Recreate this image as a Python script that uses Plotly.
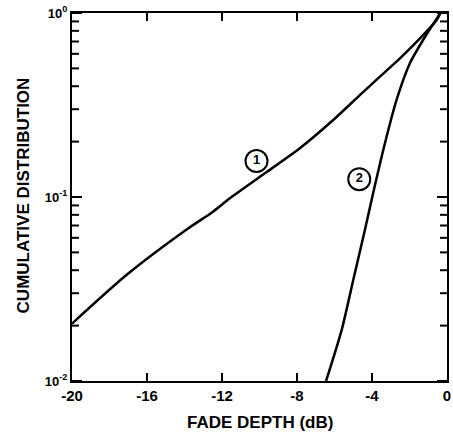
import plotly.graph_objects as go

# Curve 1
c1_x = [-20, -17.05, -13.85, -12.5, -11.6, -9.6, -7.85, -6.07, -4.65, -3.58, -2.51, -1.44, -0.55, -0.35]
c1_y = [0.0205, 0.038, 0.067, 0.083, 0.098, 0.137, 0.184, 0.262, 0.358, 0.451, 0.567, 0.728, 0.916, 1.0]
# Curve 2
c2_x = [-6.45, -5.62, -5.0, -4.38, -3.85, -3.31, -2.69, -1.98, -1.17, -0.35]
c2_y = [0.01, 0.0189, 0.0354, 0.0662, 0.115, 0.196, 0.337, 0.533, 0.743, 1.0]

label_x = [-10.16, -4.68]
label_y = [0.157, 0.125]
label_text = ["1", "2"]

x_range = [-20, 0]
x_ticks = [-20, -16, -12, -8, -4, 0]
x_ticktext = ["-20", "-16", "-12", "-8", "-4", "0"]
y_ticks = [0.01, 0.1, 1]
y_ticktext = ["10<sup>-2</sup>", "10<sup>-1</sup>", "10<sup>0</sup>"]
y_minor = [m * 10 ** e for e in (-2, -1) for m in range(2, 10)]

FONT = "Liberation Sans, Arial, sans-serif"
W, H = 453, 436
M = dict(l=72, r=6, t=13, b=55)
plot_w = W - M["l"] - M["r"]
plot_h = H - M["t"] - M["b"]
dx_per_px = (x_range[1] - x_range[0]) / plot_w

fig = go.Figure()
for cx, cy in ((c1_x, c1_y), (c2_x, c2_y)):
    fig.add_trace(go.Scatter(x=cx, y=cy, mode="lines",
                             line=dict(color="black", width=2.5, shape="spline", smoothing=0.7),
                             showlegend=False, hoverinfo="skip"))
fig.add_trace(go.Scatter(
    x=label_x, y=label_y, mode="markers+text", text=["<b>%s</b>" % t for t in label_text],
    textposition="middle center",
    textfont=dict(family=FONT, size=13, color="black"),
    marker=dict(symbol="circle", size=22, color="white", line=dict(color="black", width=2)),
    showlegend=False, hoverinfo="skip"))

# inward tick marks on all four sides, placed through the axes
tl = dict(color="black", width=2)
shapes = []
for v in y_ticks + y_minor:
    L = 10 if v in y_ticks else 7
    shapes.append(dict(type="line", xref="x", x0=x_range[0], x1=x_range[0] + L * dx_per_px,
                       yref="y", y0=v, y1=v, line=tl, layer="above"))
    shapes.append(dict(type="line", xref="x", x0=x_range[1], x1=x_range[1] - L * dx_per_px,
                       yref="y", y0=v, y1=v, line=tl, layer="above"))
for v in x_ticks[1:-1]:
    f = 8 / plot_h
    shapes.append(dict(type="line", yref="paper", y0=0, y1=f, xref="x", x0=v, x1=v, line=tl, layer="above"))
    shapes.append(dict(type="line", yref="paper", y0=1, y1=1 - f, xref="x", x0=v, x1=v, line=tl, layer="above"))

common = dict(ticks="", showline=True, linecolor="black", linewidth=2, mirror=True,
              showgrid=False, zeroline=False, automargin=False)

fig.update_layout(
    width=W, height=H,
    margin=dict(**M, autoexpand=False),
    paper_bgcolor="white", plot_bgcolor="white",
    font=dict(family=FONT, color="black"),
    xaxis=dict(range=x_range, tickmode="array", tickvals=x_ticks,
               ticktext=["<b>%s</b>" % t for t in x_ticktext],
               tickfont=dict(family=FONT, size=15), **common),
    yaxis=dict(type="log", range=[-2, 0], tickmode="array", tickvals=y_ticks,
               ticktext=["<b>%s</b>" % t for t in y_ticktext],
               tickfont=dict(family=FONT, size=13), **common),
    shapes=shapes,
    annotations=[
        dict(text="<b>FADE DEPTH (dB)</b>", xref="paper", yref="paper", x=0.5, y=-0.112,
             xanchor="center", yanchor="middle", showarrow=False, font=dict(size=17)),
        dict(text="<b>CUMULATIVE DISTRIBUTION</b>", xref="paper", yref="paper", x=-0.13, y=0.505,
             xanchor="center", yanchor="middle", showarrow=False, textangle=-90, font=dict(size=17)),
    ],
)
fig.write_html("out.html", config={"displayModeBar": False},
               post_script="document.body.style.margin='0px';")
